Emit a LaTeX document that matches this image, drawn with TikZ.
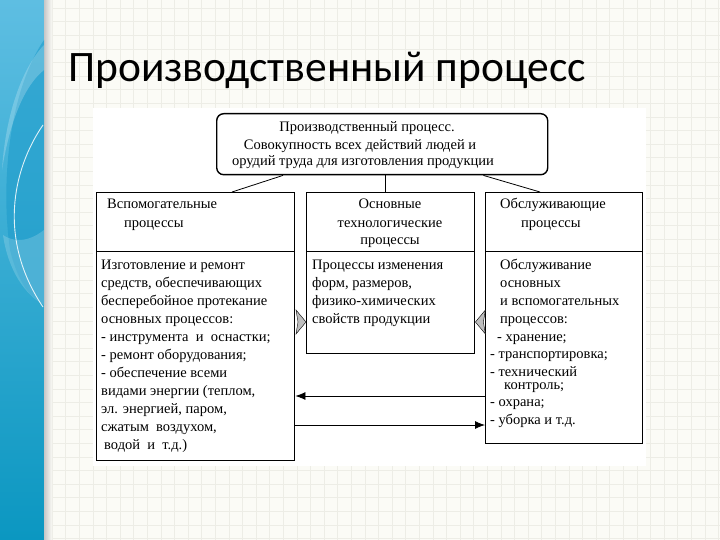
\documentclass[tikz,border=0pt]{standalone}
\usepackage{fontspec}
\setmainfont{Liberation Serif}
\newfontfamily\titlefont{Carlito}
\usetikzlibrary{arrows.meta}
\definecolor{bg}{HTML}{FBFBF6}
\definecolor{gridc}{HTML}{EDEDE6}
\definecolor{sideA}{HTML}{5EBEE2}
\definecolor{sideB}{HTML}{0B97C1}
\definecolor{sideD}{HTML}{1E9CCB}
\definecolor{arrowgray}{HTML}{BEBEBE}
\begin{document}
\begin{tikzpicture}[x=1pt,y=-1pt,
  boxst/.style={draw, line width=1.4pt, inner sep=0pt, anchor=north west},
  txt/.style={anchor=base west, inner sep=0pt, font=\fontsize{14.5}{17}\selectfont},
  ctxt/.style={anchor=base, inner sep=0pt, font=\fontsize{14.5}{17}\selectfont},
  conn/.style={line width=0.8pt},
  harrow/.style={line width=0.8pt, -{Latex[length=10pt,width=8pt]}},
  gtip/.style={fill=arrowgray, draw=black, line width=0.4pt}]
\useasboundingbox (0,0) rectangle (720,540);
% background
\fill[bg] (0,0) rectangle (720,540);
\foreach \i in {0,...,49} \draw[gridc, line width=0.5pt] ({52+\i*13.6},0) -- ({52+\i*13.6},540);
\foreach \i in {0,...,39} \draw[gridc, line width=0.5pt] (44,{8+\i*13.6}) -- (720,{8+\i*13.6});
% sidebar
\shade[top color=sideA, bottom color=sideB] (0,0) rectangle (44,540);
\shade[left color=black!22, right color=bg] (44,0) rectangle (52,540);
\fill[sideD, opacity=0.6] (44,40) .. controls (10,90) and (0,180) .. (10,250) .. controls (20,290) and (35,300) .. (44,305) -- cycle;
\fill[white, opacity=0.22] (44,45) .. controls (20,70) and (5,120) .. (2,170) .. controls (10,120) and (25,85) .. (44,70) -- cycle;
\fill[white, opacity=0.18] (44,230) .. controls (25,245) and (10,240) .. (3,235) .. controls (8,270) and (25,295) .. (44,305) -- cycle;
\draw[white, opacity=0.85, line width=0.9pt] (43,125) .. controls (12,170) and (-2,240) .. (43,307);
% title
\node[anchor=base west, inner sep=0pt, font=\titlefont\fontsize{43.5}{44}\selectfont] (title) at (68,82) {Производственный процесс};
% diagram background
\fill[white] (93,108) rectangle (646,466);
% top box
\node[boxst, rounded corners=7pt, minimum width=331pt, minimum height=61pt] (top) at (216,113) {};
\node[ctxt] (tt1) at (367,132) {Производственный процесс.};
\node[ctxt] (tt2) at (360,150) {Совокупность всех действий людей и};
\node[ctxt] (tt3) at (363,166) {орудий труда для изготовления продукции};
% column boxes
\node[boxst, minimum width=198pt, minimum height=268pt] (lbox) at (96,192) {};
\node[boxst, minimum width=168pt, minimum height=161pt] (cbox) at (306,192) {};
\node[boxst, minimum width=157pt, minimum height=251pt] (rbox) at (485,192) {};
\draw[line width=0.8pt] (lbox.west |- 0,251) -- (lbox.east |- 0,251);
\draw[line width=0.8pt] (cbox.west |- 0,251) -- (cbox.east |- 0,251);
\draw[line width=0.8pt] (rbox.west |- 0,251) -- (rbox.east |- 0,251);
% connectors from top box
\draw[conn] ([xshift=67pt]top.south west) -- ([xshift=136pt]lbox.north west);
\draw[conn] (top.south -| 385,0) -- (cbox.north -| 385,0);
\draw[conn] ([xshift=-65pt]top.south east) -- ([xshift=55pt]rbox.north west);
% left header and body
\node[txt] (lh1) at (107,209) {Вспомогательные};
\node[txt] (lh2) at (124,227) {процессы};
\foreach \t [count=\i] in {Изготовление и ремонт, {средств, обеспечивающих}, бесперебойное протекание, основных процессов:, - инструмента\ \ и\ \ оснастки;, - ремонт оборудования;, - обеспечение всеми, {видами энергии (теплом,}, {эл. энергией, паром,}, {сжатым\ \ воздухом,}}
  \node[txt] (lb\i) at (101,{251+\i*18}) {\t};
\node[txt] (lb11) at (104,449) {водой\ \ и\ \ т.д.)};
% center header and body
\node[ctxt] (ch1) at (390,209) {Основные};
\node[ctxt] (ch2) at (390,227) {технологические};
\node[ctxt] (ch3) at (390,244) {процессы};
\foreach \t [count=\i] in {Процессы изменения, {форм, размеров,}, физико-химических, свойств продукции}
  \node[txt] (cb\i) at (312,{251+\i*18}) {\t};
% right header and body
\node[txt] (rh1) at (500,209) {Обслуживающие};
\node[txt] (rh2) at (521,227) {процессы};
\node[txt] (rb1) at (500,269) {Обслуживание};
\node[txt] (rb2) at (500,287) {основных};
\node[txt] (rb3) at (500,305) {и вспомогательных};
\node[txt] (rb4) at (500,323) {процессов:};
\node[txt] (rb5) at (497,341) {- хранение;};
\node[txt] (rb6) at (490,358) {- транспортировка;};
\node[txt] (rb7) at (490,376) {- технический};
\node[txt] (rb8) at (504,389) {контроль;};
\node[txt] (rb9) at (490,406) {- охрана;};
\node[txt] (rb10) at (490,424) {- уборка и т.д.};
% gray arrowheads into the central box
\coordinate (lt) at (cbox.west |- 0,322);
\coordinate (rt) at (cbox.east |- 0,322);
\filldraw[gtip] (lt) -- ++(-10,-12) -- ++(2,12) -- ++(-2,12) -- cycle;
\filldraw[gtip] (rt) -- ++(10,-12) -- ++(-2,12) -- ++(2,12) -- cycle;
% horizontal arrows
\draw[harrow] (rbox.west |- 0,396) -- (lbox.east |- 0,396);
\draw[harrow] (lbox.east |- 0,425) -- (rbox.west |- 0,425);
\end{tikzpicture}
\end{document}
